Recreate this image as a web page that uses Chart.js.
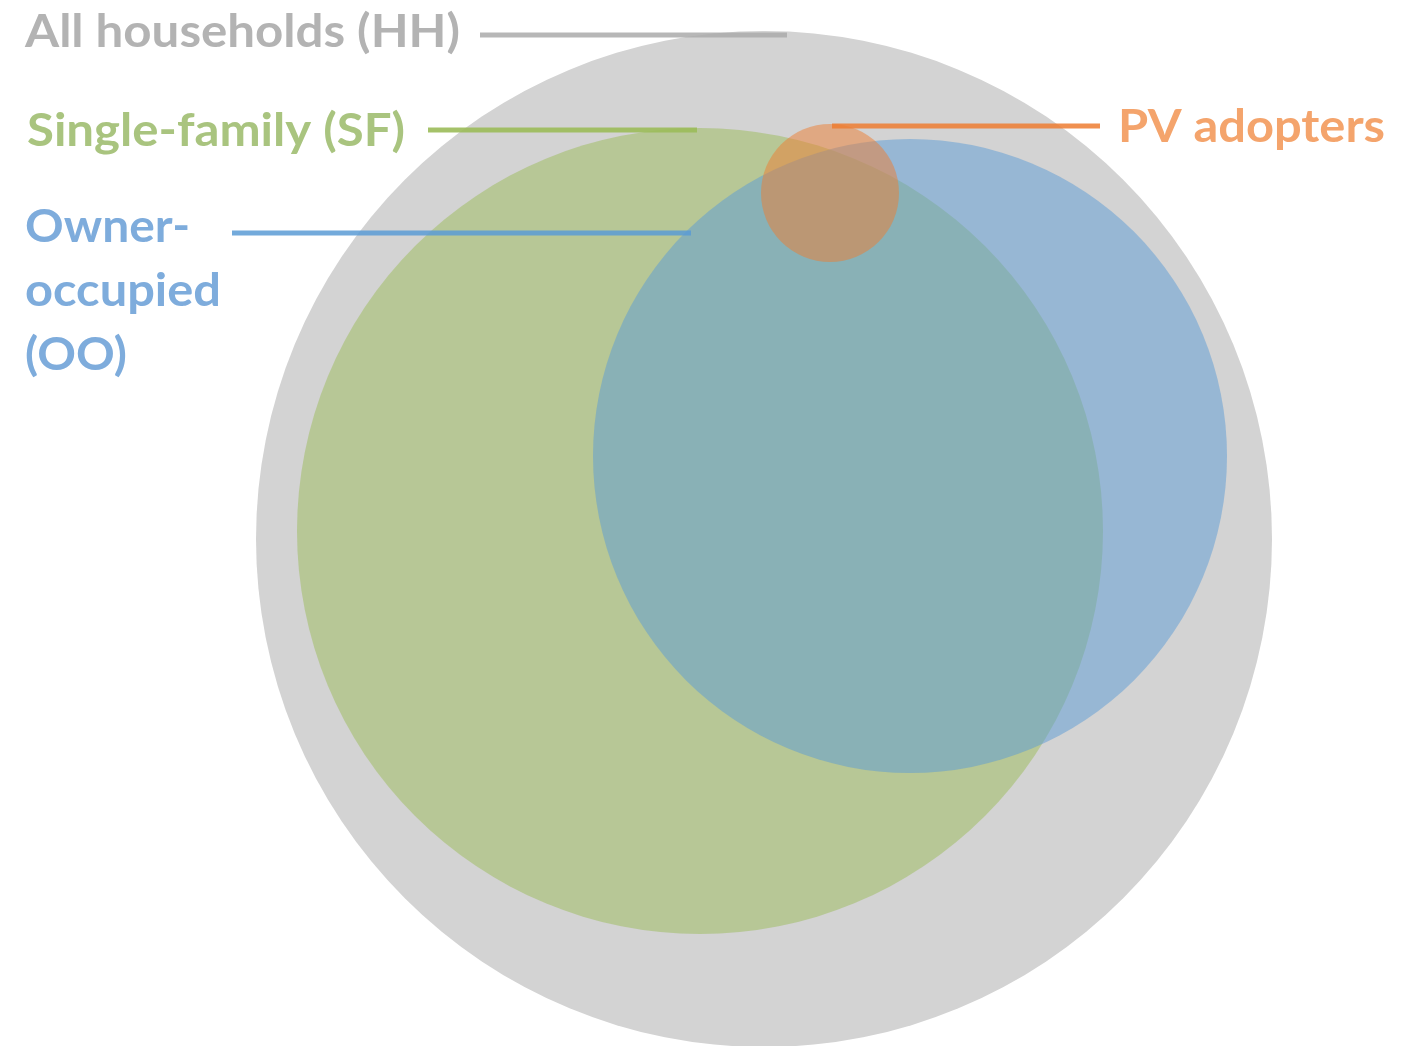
<!DOCTYPE html>
<html>
<head>
<meta charset="utf-8">
<script src="https://cdn.jsdelivr.net/npm/chart.js@4.4.1/dist/chart.umd.min.js"></script>
<style>
  html, body { margin: 0; padding: 0; background: #fff; }
  #wrap { width: 1404px; height: 1046px; }
</style>
</head>
<body>
<div id="wrap"><canvas id="venn" width="1404" height="1046"></canvas></div>
<script>
  // Sets, drawn back to front: HH, SF, OO, PV.
  const setNames = ['All households (HH)', 'Single-family (SF)', 'Owner-occupied (OO)', 'PV adopters'];
  const centerX = [764, 700, 910, 830];
  const centerY = [539, 531, 456, 193];
  const radius = [508, 403, 317, 69];
  const fillColors = ['#d3d3d3', 'rgba(155,187,89,0.5)', 'rgba(91,155,213,0.5)', 'rgba(237,125,49,0.5)'];

  // Leader lines from each label to its circle.
  const leaderFromX = [480, 428, 232, 832];
  const leaderToX = [787, 697, 691, 1100];
  const leaderY = [35, 130, 233, 126];
  const leaderColors = ['rgba(170,170,170,0.85)', 'rgba(155,187,89,0.9)', 'rgba(91,155,213,0.85)', 'rgba(237,125,49,0.85)'];

  // Label text, one entry per line of text.
  const labelLines = [
    ['All households (HH)'],
    ['Single-family (SF)'],
    ['Owner-', 'occupied', '(OO)'],
    ['PV adopters'],
  ];
  const labelColors = ['#b3b3b3', '#a9c47f', '#7eacdc', '#f4a46c'];
  const labelX = [25, 27, 25, 1118];
  const labelBaselines = [[47], [146], [242, 306, 370], [142]];
  const labelWidths = [[435], [378], [165, 196, 102], [267]];

  const bubbleSets = setNames.map((name, i) => ({
    type: 'bubble',
    label: name,
    data: [{ x: centerX[i], y: centerY[i], r: radius[i] }],
    backgroundColor: fillColors[i],
    borderWidth: 0,
    hoverRadius: 0,
    clip: false,
    order: 10 - i,
  }));

  const leaderSets = setNames.map((name, i) => ({
    type: 'line',
    label: name + ' leader',
    data: [{ x: leaderFromX[i], y: leaderY[i] }, { x: leaderToX[i], y: leaderY[i] }],
    borderColor: leaderColors[i],
    borderWidth: 5,
    pointRadius: 0,
    fill: false,
    clip: false,
    order: 1,
  }));

  const labelPlugin = {
    id: 'setLabels',
    afterDraw(chart) {
      const ctx = chart.ctx;
      const sx = chart.scales.x, sy = chart.scales.y;
      labelLines.forEach((lines, i) => {
        lines.forEach((text, j) => {
          ctx.save();
          ctx.font = 'bold 46px Lato';
          ctx.fillStyle = labelColors[i];
          ctx.textBaseline = 'alphabetic';
          const w = ctx.measureText(text).width;
          ctx.translate(sx.getPixelForValue(labelX[i]), sy.getPixelForValue(labelBaselines[i][j]));
          ctx.scale(labelWidths[i][j] / w, 1);
          ctx.fillText(text, 0, 0);
          ctx.restore();
        });
      });
    },
  };

  new Chart(document.getElementById('venn').getContext('2d'), {
    type: 'bubble',
    data: { datasets: bubbleSets.concat(leaderSets) },
    options: {
      responsive: false,
      animation: false,
      layout: { padding: 0, autoPadding: false },
      plugins: { legend: { display: false }, tooltip: { enabled: false } },
      scales: {
        x: { type: 'linear', min: 0, max: 1404, display: false },
        y: { type: 'linear', min: 0, max: 1046, reverse: true, display: false },
      },
    },
    plugins: [labelPlugin],
  });
</script>
</body>
</html>
